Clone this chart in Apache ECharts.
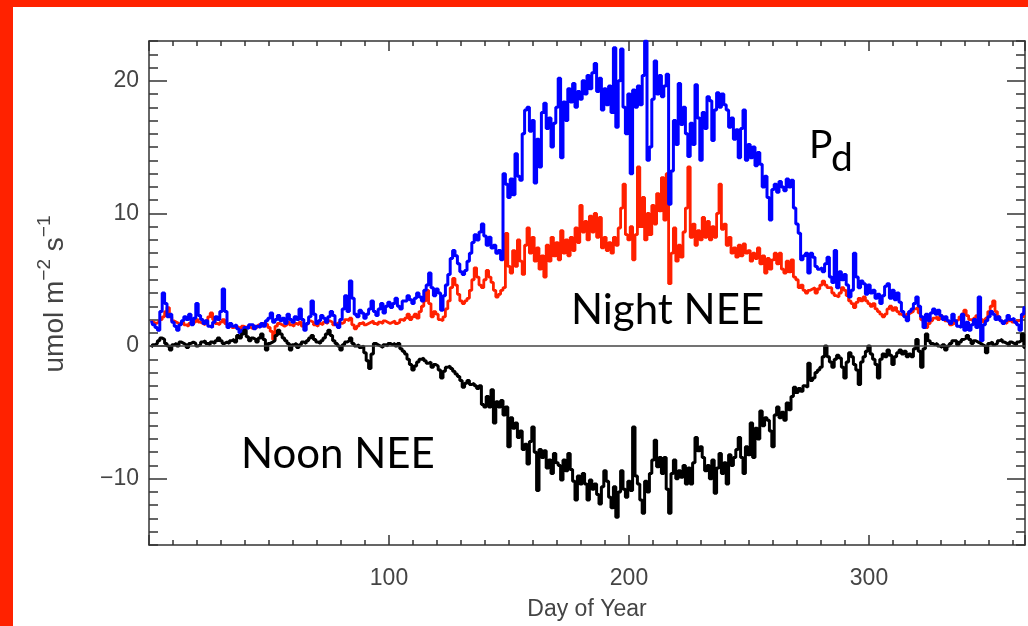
<!DOCTYPE html>
<html><head><meta charset="utf-8">
<script src="https://cdn.jsdelivr.net/npm/echarts@6/dist/echarts.min.js"></script>
<style>html,body{margin:0;padding:0;background:#fff}#c{width:1028px;height:626px}</style>
</head><body><div id="c"></div>
<script>
// Day of year runs 1..365 (index + 1)
const pd = [
1.9,1.6,1.4,1.2,2.6,4.0,3.2,2.2,2.4,1.8,
1.5,1.2,1.6,1.9,2.2,2.0,2.4,1.6,2.1,3.2,
2.3,2.0,1.7,1.9,1.5,1.4,1.8,2.2,2.0,2.6,
4.3,2.6,1.4,1.7,1.5,1.6,1.3,1.0,1.2,1.4,
1.3,1.6,1.6,1.3,1.5,1.4,1.7,1.5,1.9,2.1,
2.5,1.8,2.0,2.3,1.9,2.1,1.7,2.4,2.0,1.8,
2.2,2.0,2.8,2.0,1.2,1.7,2.2,3.4,2.4,1.7,
1.9,2.3,2.1,1.8,2.2,2.6,2.3,1.6,1.4,2.0,
2.8,3.8,2.6,4.9,3.6,2.4,2.2,2.7,2.5,2.1,
2.4,2.8,3.4,2.6,2.3,2.8,3.2,2.5,3.0,3.3,
2.9,3.2,3.6,3.0,2.8,3.4,3.4,3.8,3.5,3.2,
3.6,4.0,3.7,3.4,4.2,4.6,5.5,4.4,3.8,4.3,
4.0,2.7,3.8,4.6,5.4,6.6,7.2,6.8,6.2,5.6,
5.4,5.7,6.4,7.0,7.8,8.4,8.0,8.6,9.2,8.3,
7.6,8.2,7.4,7.6,7.0,7.2,6.5,13.0,12.2,11.2,
12.6,11.4,14.5,12.8,12.5,16.0,17.8,18.0,16.2,17.0,
12.3,15.6,13.5,17.6,18.3,16.4,17.2,15.0,16.8,18.0,
20.2,14.2,18.4,17.0,19.4,18.4,19.8,18.0,19.2,18.6,
20.0,19.0,20.4,19.4,20.6,21.3,19.2,20.2,17.8,19.4,
18.2,19.6,17.6,22.5,16.5,20.0,22.4,18.0,16.0,19.0,
13.0,19.3,18.0,19.6,18.2,20.4,23.0,14.0,15.0,18.6,
21.5,19.0,20.4,18.8,19.6,20.5,10.7,13.2,17.0,15.2,
19.8,16.7,18.0,16.0,14.3,16.8,15.2,19.7,17.2,14.0,
17.6,16.4,18.8,18.5,15.5,17.8,19.1,18.0,19.0,18.2,
17.8,16.5,17.2,15.6,16.3,14.2,16.4,17.8,14.0,15.2,
14.2,15.0,13.6,14.6,13.7,12.0,12.8,11.2,9.5,11.8,
12.2,11.6,12.4,12.0,11.7,12.6,12.0,12.5,10.4,9.2,
8.5,6.5,6.8,7.0,5.5,7.0,6.7,6.0,5.8,5.9,
5.6,6.2,6.7,5.2,4.8,7.2,4.4,5.6,5.0,5.4,
4.6,3.7,4.2,7.0,5.2,4.4,4.9,4.7,3.9,4.6,
4.0,4.2,3.6,3.9,3.2,3.8,4.5,4.7,3.6,4.2,
3.5,4.0,3.3,2.6,2.2,1.9,2.6,2.8,3.2,3.7,
3.0,2.2,1.4,2.4,1.9,2.5,2.8,2.4,2.7,2.3,
2.0,2.2,1.9,1.7,2.4,1.9,1.5,1.4,2.4,1.2,
1.8,1.2,1.6,2.0,1.4,3.7,0.4,1.6,1.9,2.2,
2.6,2.4,2.0,2.2,1.9,1.7,1.9,2.3,2.0,2.1,
1.8,1.6,1.2,2.4,2.9
];
const nightNEE = [
1.9,1.8,1.7,1.8,2.0,2.2,2.6,2.9,2.2,1.9,
1.8,1.7,1.6,1.8,1.6,1.5,1.7,1.6,1.8,2.0,
1.8,1.7,1.6,1.9,2.2,2.5,2.0,1.7,1.6,1.8,
2.0,1.7,1.5,1.6,1.4,1.5,1.4,1.3,1.5,1.4,
1.5,1.4,1.3,1.5,1.4,1.6,1.5,1.7,1.6,1.4,
1.1,0.5,1.5,1.7,1.6,1.5,1.6,1.8,1.6,1.5,
1.7,1.6,1.8,1.5,1.6,1.7,1.9,1.8,1.6,1.5,
1.7,1.6,1.8,1.7,1.9,1.8,1.6,1.7,1.8,1.7,
1.8,2.0,1.9,2.1,1.6,1.3,1.5,1.7,1.8,1.6,
1.7,1.8,1.9,1.7,1.6,1.8,1.7,1.9,1.8,1.7,
1.8,1.9,1.7,1.8,2.0,1.9,2.1,2.4,2.0,2.2,
2.4,2.1,2.6,3.0,3.4,4.2,3.2,2.2,2.6,2.4,
2.0,1.9,2.2,2.8,3.4,4.4,5.1,4.6,3.9,3.4,
3.2,3.4,3.6,4.2,5.0,5.9,5.2,4.6,4.4,5.0,
5.7,5.2,4.8,4.2,3.7,3.9,4.2,4.4,8.5,6.0,
5.5,7.2,6.0,8.0,6.4,5.4,7.6,8.9,7.0,8.2,
6.4,7.4,5.8,6.8,5.2,7.6,6.4,8.2,6.8,7.8,
6.5,8.7,7.0,8.0,6.8,8.2,7.2,8.9,7.8,10.6,
8.6,9.4,8.0,9.8,8.6,10.0,8.2,9.7,7.4,8.2,
7.2,7.8,7.0,8.2,7.6,8.9,10.4,12.2,8.4,8.0,
9.0,6.5,8.4,13.5,9.0,11.2,8.0,10.0,8.4,10.6,
9.2,11.5,10.2,12.7,9.5,13.0,4.7,7.0,8.9,6.4,
7.6,6.7,8.6,10.4,13.5,8.2,9.2,7.6,8.7,8.0,
9.7,8.2,9.4,8.0,9.0,8.2,10.0,12.2,8.8,9.2,
7.6,8.2,7.0,7.4,6.7,7.6,6.8,7.7,7.0,7.2,
6.4,7.0,6.6,7.4,6.2,6.8,5.5,6.6,5.8,6.5,
7.0,6.2,7.0,5.8,5.5,6.4,5.6,6.5,5.2,5.0,
4.4,4.6,4.2,4.0,4.2,4.3,4.4,4.0,4.3,4.6,
4.9,4.6,4.4,4.4,4.0,3.8,3.7,4.0,4.4,4.2,
3.8,3.4,3.2,2.9,3.3,3.6,3.4,3.7,3.4,3.2,
3.0,3.2,2.8,2.6,2.4,2.2,2.4,2.8,3.0,2.7,
2.9,2.6,2.4,2.3,2.2,2.4,2.5,2.6,2.8,2.9,
2.5,2.0,1.8,1.4,1.7,1.9,2.1,2.2,2.0,2.3,
2.1,1.9,1.8,1.6,1.7,1.9,2.0,2.2,2.4,2.7,
2.3,2.0,1.9,2.1,2.3,2.2,2.0,1.8,2.1,2.6,
3.0,3.4,2.6,2.2,1.9,1.8,1.7,1.9,2.0,1.8,
1.9,1.9,2.0,2.2,2.6
];
const noonNEE = [
-0.1,0.1,0.2,0.4,0.6,0.5,0.2,0.0,-0.3,0.1,
0.2,0.0,0.3,0.2,0.1,-0.1,0.2,0.3,0.2,0.0,
0.1,0.3,0.4,0.2,0.1,0.3,0.2,0.4,0.6,0.4,
0.2,0.3,0.2,0.4,0.5,0.3,0.8,0.6,0.9,1.2,
0.7,0.4,0.6,0.5,0.3,0.6,0.9,0.5,-0.3,0.2,
0.3,0.4,0.8,1.2,0.9,0.6,0.4,0.2,-0.3,0.1,
0.2,-0.1,0.1,0.3,0.2,0.4,0.6,0.8,0.5,0.3,
0.2,0.4,0.6,0.9,1.2,0.8,0.4,0.2,0.0,-0.3,
0.1,0.3,0.4,0.6,0.2,0.0,0.1,-0.1,0.0,-0.5,
-1.1,-1.7,-0.6,0.2,0.1,0.0,-0.1,0.1,0.0,0.2,
0.1,0.2,0.0,0.2,-0.2,-0.4,-0.6,-1.0,-1.4,-1.8,
-1.5,-1.2,-1.0,-0.9,-1.1,-1.3,-1.2,-1.6,-1.4,-1.5,
-1.8,-2.4,-1.9,-1.6,-1.5,-1.7,-1.9,-2.1,-2.3,-2.6,
-3.1,-2.8,-2.6,-2.9,-2.8,-3.0,-3.2,-3.0,-4.4,-4.6,
-3.8,-4.6,-3.3,-5.8,-4.2,-4.6,-4.1,-5.2,-4.6,-7.6,
-5.4,-6.2,-5.8,-6.9,-6.4,-7.8,-7.4,-8.9,-7.2,-6.1,
-8.0,-10.9,-7.8,-8.4,-7.9,-9.2,-8.6,-9.6,-8.1,-8.8,
-9.0,-10.1,-8.6,-9.4,-8.1,-9.3,-10.2,-11.6,-9.8,-10.4,
-9.6,-10.4,-11.6,-10.1,-10.8,-10.4,-11.2,-11.9,-10.6,-9.4,
-10.2,-11.4,-12.2,-10.6,-12.9,-11.0,-9.4,-10.8,-11.4,-10.2,
-10.9,-6.1,-9.8,-10.4,-11.6,-12.6,-10.2,-11.0,-9.6,-8.6,
-7.1,-9.1,-8.4,-9.6,-8.4,-10.8,-12.6,-9.6,-8.6,-10.0,
-9.4,-9.9,-9.0,-10.4,-9.2,-10.4,-8.8,-6.9,-7.9,-7.6,
-8.4,-9.4,-9.0,-10.0,-8.6,-11.1,-9.2,-8.1,-9.6,-8.8,
-10.4,-8.2,-9.0,-8.4,-7.8,-6.9,-8.4,-9.6,-7.6,-8.2,
-5.8,-8.4,-6.2,-7.0,-4.9,-6.0,-5.4,-5.6,-6.4,-7.6,
-5.2,-4.6,-5.4,-5.0,-5.6,-4.3,-4.8,-3.8,-3.1,-3.5,
-3.2,-3.4,-3.0,-3.1,-1.3,-2.6,-2.4,-2.0,-1.8,-1.6,
-0.8,0.0,-0.8,-1.2,-1.6,-1.0,-0.7,-0.9,-1.6,-2.4,
-1.2,-0.5,-0.8,-1.4,-1.8,-2.9,-1.2,-0.8,-0.4,0.0,
-0.6,-1.0,-1.4,-2.4,-1.0,-0.6,-0.8,-0.3,-0.7,-1.4,
-0.8,-0.5,-0.3,-0.6,-0.4,-0.8,-0.6,-0.8,-0.2,0.5,
-0.4,-1.6,-0.2,0.9,0.4,0.2,0.1,0.2,0.0,-0.1,
0.1,-0.3,0.0,0.2,0.4,0.4,0.1,0.3,0.5,0.6,
0.8,0.5,0.2,0.4,0.3,0.2,0.1,0.0,-0.5,0.2,
0.3,0.1,0.2,0.4,0.5,0.3,0.2,0.1,0.3,0.2,
0.1,0.3,0.4,0.9,-0.1
];
const xTickLabels = [100, 200, 300];
const yTickLabels = [-10, 0, 10, 20];
const labels = { pd: 'P', pdSub: 'd', night: 'Night NEE', noon: 'Noon NEE', xName: 'Day of Year' };

const toXY = arr => arr.map((v, i) => [i + 1, v]);
const AX = '#333';
const labFont = { color: '#444', fontFamily: 'Liberation Sans', fontSize: 23 };
const lineSt = { color: AX, width: 1.5 };

function xAx(pos, interval, len, showLine, showLabel) {
  return {
    type: 'value', position: pos, min: 0, max: 365, interval: interval,
    axisLine: { show: showLine, onZero: false, lineStyle: lineSt },
    axisTick: { show: true, inside: true, length: len, lineStyle: lineSt },
    axisLabel: showLabel ? Object.assign({ show: true, margin: 22,
      formatter: v => xTickLabels.indexOf(v) >= 0 ? String(v) : '' }, labFont) : { show: false },
    splitLine: { show: false },
    name: showLabel ? labels.xName : '', nameLocation: 'middle', nameGap: 53,
    nameTextStyle: labFont
  };
}
function yAx(pos, major, len, showLine, showLabel) {
  const a = {
    type: 'value', position: pos, min: -15, max: 23,
    axisLine: { show: showLine, onZero: false, lineStyle: lineSt },
    axisTick: { show: true, inside: true, length: len, lineStyle: lineSt },
    axisLabel: showLabel ? Object.assign({ show: true, margin: 10, customValues: yTickLabels,
      formatter: v => String(v).replace('-', '\u2212') }, labFont) : { show: false },
    splitLine: { show: false }
  };
  if (major) { a.axisTick.customValues = yTickLabels; if (!showLabel) a.axisLabel = { show: false, customValues: yTickLabels }; }
  else { a.interval = 1; }
  return a;
}

const chart = echarts.init(document.getElementById('c'), null, { renderer: 'canvas' });
const lineS = (name, data, color, w) => ({
  name, type: 'line', data: toXY(data), step: 'middle', showSymbol: false, symbol: 'none',
  lineStyle: { color, width: w }, itemStyle: { color }, animation: false, silent: true
});
chart.setOption({
  animation: false,
  backgroundColor: '#ffffff',
  grid: { left: 149, top: 41, width: 876, height: 505, containLabel: false },
  xAxis: [
    xAx('bottom', 100, 10, true, true),
    xAx('bottom', 10, 5, false, false),
    xAx('top', 100, 10, true, false),
    xAx('top', 10, 5, false, false)
  ],
  yAxis: [
    yAx('left', true, 18, true, true),
    yAx('left', false, 9, false, false),
    yAx('right', true, 18, true, false),
    yAx('right', false, 9, false, false)
  ],
  series: [
    Object.assign(lineS('Night NEE', nightNEE, '#ff2000', 2.8), {
      markLine: { silent: true, symbol: 'none', label: { show: false },
        lineStyle: { color: '#444', width: 1.5, type: 'solid' }, data: [{ yAxis: 0 }] }
    }),
    lineS('Pd', pd, '#0000ff', 3),
    lineS('Noon NEE', noonNEE, '#000000', 3)
  ],
  graphic: [
    { type: 'rect', shape: { x: 0, y: 0, width: 13, height: 626 }, style: { fill: '#ff2200' } },
    { type: 'rect', shape: { x: 0, y: 0, width: 1028, height: 7 }, style: { fill: '#ff2200' } },
    { type: 'text', x: 52, y: 294, rotation: Math.PI / 2,
      style: { text: '{n|umol m}{s|\u22122}{n| s}{s|\u22121}', textAlign: 'center', textVerticalAlign: 'middle',
        rich: { n: { fontSize: 28, fontFamily: 'Liberation Sans', fill: '#444', lineHeight: 34, verticalAlign: 'bottom' },
                s: { fontSize: 19, fontFamily: 'Liberation Sans', fill: '#444', lineHeight: 19, verticalAlign: 'top' } } } },
    { type: 'text', x: 809, y: 145, style: { text: labels.pd, fontFamily: 'Lato', fontSize: 39, fill: '#000', textVerticalAlign: 'middle' } },
    { type: 'text', x: 831, y: 158, style: { text: labels.pdSub, fontFamily: 'Lato', fontSize: 39, fill: '#000', textVerticalAlign: 'middle' } },
    { type: 'text', x: 571, y: 310, style: { text: labels.night, fontFamily: 'Lato', fontSize: 42, fill: '#000', textVerticalAlign: 'middle' } },
    { type: 'text', x: 241, y: 454, style: { text: labels.noon, fontFamily: 'Lato', fontSize: 42, fill: '#000', textVerticalAlign: 'middle' } }
  ]
});
</script></body></html>
